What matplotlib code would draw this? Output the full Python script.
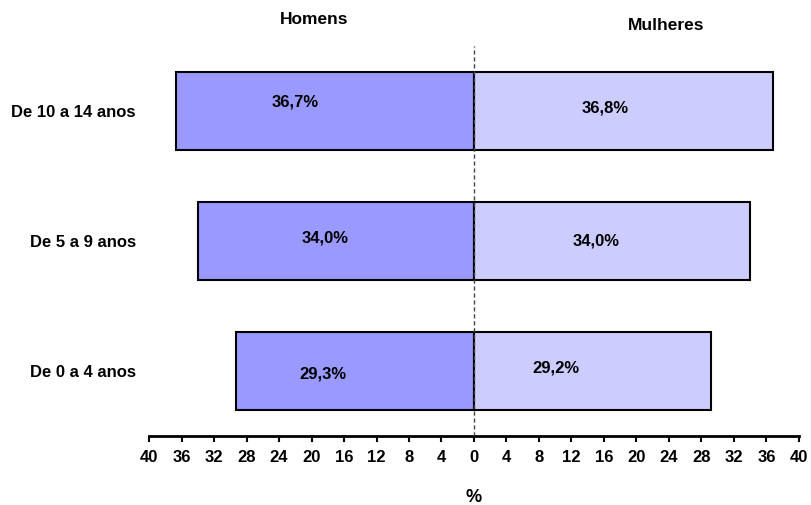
import numpy as np
import matplotlib.pyplot as plt

plt.rcParams['font.family'] = ['Liberation Sans', 'DejaVu Sans']

groups = ["De 0 a 4 anos", "De 5 a 9 anos", "De 10 a 14 anos"]
homens = [29.3, 34.0, 36.7]
mulheres = [29.2, 34.0, 36.8]

# where each value label sits inside its bar (x in data units, y offset from bar centre)
lab_x_h = [-18.6, -18.3, -22.0]
lab_x_m = [10.1, 15.0, 16.1]
lab_dy_h = [-0.02, 0.02, 0.07]
lab_dy_m = [0.02, 0.0, 0.02]

fig = plt.figure(figsize=(8.11, 5.05), dpi=100)
ax = fig.add_axes([149 / 811, 69 / 505, 650 / 811, 390 / 505])

y = np.arange(len(groups))
ax.barh(y, [-v for v in homens], height=0.6, color="#9999FF", edgecolor="black", linewidth=1.5)
ax.barh(y, mulheres, height=0.6, color="#CCCCFF", edgecolor="black", linewidth=1.5)
ax.axvline(0, color="#444444", linestyle=(0, (3, 2)), linewidth=1, zorder=3)

for i in range(len(groups)):
    ax.text(lab_x_h[i], y[i] + lab_dy_h[i], f"{homens[i]:.1f}%".replace(".", ","),
            ha="center", va="center", fontsize=12, fontweight="bold")
    ax.text(lab_x_m[i], y[i] + lab_dy_m[i], f"{mulheres[i]:.1f}%".replace(".", ","),
            ha="center", va="center", fontsize=12, fontweight="bold")

ax.set_xlim(-40, 40)
ax.set_ylim(-0.5, 2.5)
ticks = np.arange(-40, 41, 4)
ax.set_xticks(ticks)
ax.set_xticklabels([str(abs(t)) for t in ticks], fontsize=12, fontweight="bold")
ax.tick_params(axis="x", length=4, width=1.5, pad=6)
ax.set_yticks(y)
ax.set_yticklabels(groups, fontsize=12, fontweight="bold")
ax.tick_params(axis="y", length=0, pad=9.5)
for s in ["top", "right", "left"]:
    ax.spines[s].set_visible(False)
ax.spines["bottom"].set_linewidth(2)

ax.set_xlabel("%", fontsize=13, fontweight="bold", labelpad=17)
fig.text(314 / 811, 1 - 20 / 505, "Homens", ha="center", va="center", fontsize=12.5, fontweight="bold")
fig.text(666 / 811, 1 - 25 / 505, "Mulheres", ha="center", va="center", fontsize=12.5, fontweight="bold")

fig.savefig("out.png", dpi=100)
